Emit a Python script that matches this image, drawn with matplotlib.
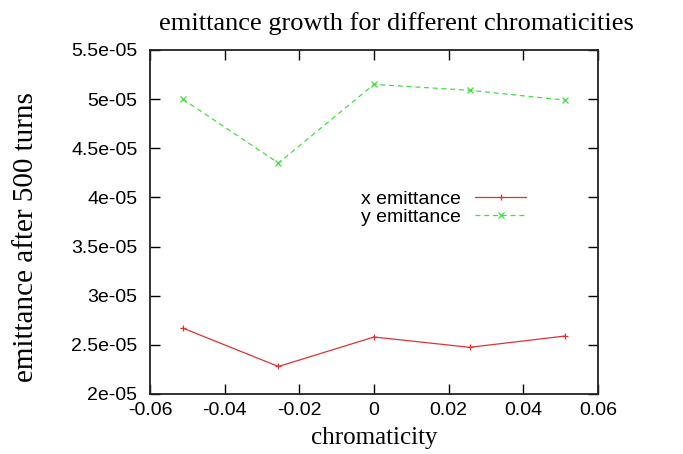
import matplotlib
matplotlib.use("Agg")
import matplotlib.pyplot as plt

chroma = [-0.0512, -0.0256, 0.0, 0.0256, 0.0512]
x_emit = [2.67e-05, 2.28e-05, 2.58e-05, 2.475e-05, 2.59e-05]
y_emit = [5.00e-05, 4.35e-05, 5.15e-05, 5.09e-05, 4.99e-05]

xticks = [-0.06, -0.04, -0.02, 0, 0.02, 0.04, 0.06]
xticklabels = ["-0.06", "-0.04", "-0.02", "0", "0.02", "0.04", "0.06"]
yticks = [2e-05, 2.5e-05, 3e-05, 3.5e-05, 4e-05, 4.5e-05, 5e-05, 5.5e-05]
yticklabels = ["2e-05", "2.5e-05", "3e-05", "3.5e-05", "4e-05", "4.5e-05", "5e-05", "5.5e-05"]

fig = plt.figure(figsize=(6.83, 4.54), dpi=100)
ax = fig.add_axes([150/683, 1 - 394/454, 448/683, 344/454])

ax.plot(chroma, x_emit, color="#dd3333", lw=0.9, marker="+", ms=5, mew=0.9,
        label="x emittance")
ax.plot(chroma, y_emit, color="#44dd44", lw=0.9, ls=(0, (4, 3)), marker="x",
        ms=4, mew=0.9, label="y emittance")

ax.set_xlim(-0.06, 0.06)
ax.set_ylim(2e-05, 5.5e-05)
ax.set_xticks(xticks)
ax.set_xticklabels(xticklabels, family="Liberation Sans", fontsize=14)
ax.set_yticks(yticks)
ax.set_yticklabels(yticklabels, family="Liberation Sans", fontsize=14)
ax.tick_params(direction="in", top=True, right=True, length=7, width=1,
               pad=6)
ax.tick_params(axis="y", pad=9)
for s in ax.spines.values():
    s.set_linewidth(1.3)
    s.set_color("#222222")

# title in the reference is shifted right of the axes centre
fig.text(396/683, 1 - 30/454, "emittance growth for different chromaticities",
         family="Liberation Serif", fontsize=19, ha="center", va="baseline")
ax.set_xlabel("chromaticity", family="Liberation Serif", fontsize=18)
ax.xaxis.set_label_coords(0.5, (394 - 438) / 344)
ax.xaxis.label.set_va("center")
ax.set_ylabel("emittance after 500 turns", family="Liberation Serif",
              fontsize=21)
ax.yaxis.set_label_coords((26 - 150) / 448, (394 - 237) / 344)
ax.yaxis.label.set_va("center")

leg = ax.legend(loc="center", bbox_to_anchor=(0.655, 0.54), frameon=False,
                markerfirst=False, handlelength=2.6,
                prop={"family": "Liberation Sans", "size": 14},
                labelspacing=0.0, handletextpad=0.75)

fig.savefig("out.png", dpi=100)
